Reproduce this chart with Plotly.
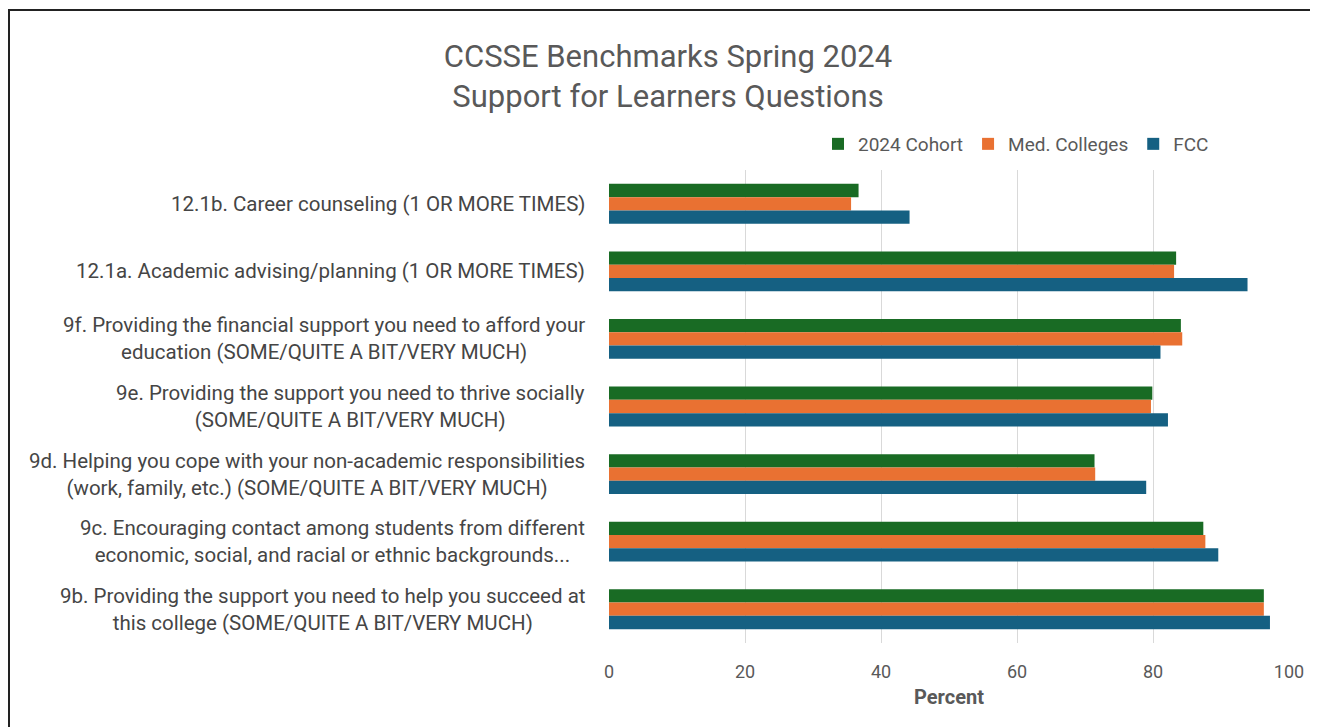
import plotly.graph_objects as go

categories = [
    "12.1b. Career counseling (1 OR MORE TIMES)",
    "12.1a. Academic advising/planning (1 OR MORE TIMES)",
    "9f. Providing the financial support you need to afford your<br>education (SOME/QUITE A BIT/VERY MUCH)",
    "9e. Providing the support you need to thrive socially<br>(SOME/QUITE A BIT/VERY MUCH)",
    "9d. Helping you cope with your non-academic responsibilities<br>(work, family, etc.) (SOME/QUITE A BIT/VERY MUCH)",
    "9c. Encouraging contact among students from different<br>economic, social, and racial or ethnic backgrounds...",
    "9b. Providing the support you need to help you succeed at<br>this college (SOME/QUITE A BIT/VERY MUCH)",
]
cohort_2024 = [36.7, 83.4, 84.1, 79.9, 71.4, 87.4, 96.3]
med_colleges = [35.6, 83.1, 84.3, 79.7, 71.5, 87.7, 96.3]
fcc = [44.2, 93.9, 81.1, 82.2, 79.0, 89.6, 97.2]
x_ticks = [0, 20, 40, 60, 80, 100]

# the page body has an 8px margin, so the figure is sized to fill the rest
W, H = 1310, 719
ML, MR, MT, MB = 601, 29, 162, 84

fig = go.Figure()
for name, vals, col in [
    ("2024 Cohort", cohort_2024, "#196B24"),
    ("Med. Colleges", med_colleges, "#E97132"),
    ("FCC", fcc, "#156082"),
]:
    fig.add_trace(go.Bar(
        y=categories, x=vals, name=name, orientation="h",
        marker=dict(color=col, line=dict(width=0)),
        hoverinfo="x+name",
    ))

pw = W - ML - MR
ph = H - MT - MB
# decorative outer border in paper coords
bx0 = (1 - ML) / pw
bx1 = (W + 5 - ML) / pw
by1 = (H - MB - 2) / ph
by0 = (H - MB - (H + 5)) / ph

# category labels: block right-aligned next to the axis, lines centred
annotations = [
    dict(text=c, xref="paper", yref="y", x=0, y=c, xanchor="right", yanchor="middle",
         xshift=-22, align="center", showarrow=False,
         font=dict(size=20.5, color="#454545"))
    for c in categories
]

fig.update_layout(
    width=W, height=H,
    margin=dict(l=ML, r=MR, t=MT, b=MB),
    paper_bgcolor="white", plot_bgcolor="white",
    barmode="group", bargap=0.41, bargroupgap=0,
    font=dict(family="Roboto, Noto Sans, sans-serif", color="#595959", size=18),
    title=dict(
        text="CCSSE Benchmarks Spring 2024<br>Support for Learners Questions",
        x=660 / W, xanchor="center", y=1 - 59 / H, yanchor="middle",
        font=dict(family="Roboto, sans-serif", size=31, color="#595959"),
    ),
    legend=dict(
        orientation="h", x=(1206 - ML) / pw, xanchor="right", y=1 + 26 / ph, yanchor="middle",
        font=dict(size=19, color="#595959"),
        itemwidth=30, tracegroupgap=0,
    ),
    xaxis=dict(
        range=[0, 100], tickvals=x_ticks, showgrid=True, gridcolor="#D9D9D9", gridwidth=1,
        zeroline=False, showline=False, ticks="outside", ticklen=12,
        tickcolor="rgba(0,0,0,0)",
        tickfont=dict(size=18, color="#595959"),
        title=dict(text="<b>Percent</b>", font=dict(size=20, color="#595959"), standoff=9),
    ),
    yaxis=dict(
        autorange="reversed", showgrid=False, zeroline=False, showline=False,
        showticklabels=False, ticks="",
    ),
    annotations=annotations,
    shapes=[dict(
        type="rect", xref="paper", yref="paper",
        x0=bx0, x1=bx1, y0=by0, y1=by1,
        line=dict(color="#222222", width=2), fillcolor="rgba(0,0,0,0)", layer="above",
    )],
)

fig.write_html("out.html")
